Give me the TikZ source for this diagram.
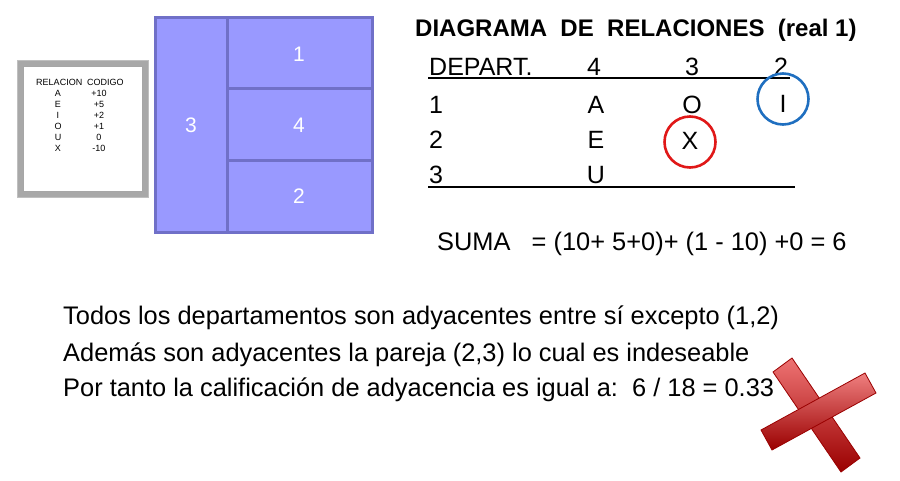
\documentclass[tikz,border=0pt]{standalone}
\usepackage{fontspec}
\setmainfont{Liberation Sans}
\usetikzlibrary{positioning}
\definecolor{dept}{HTML}{9999FF}
\definecolor{deptline}{HTML}{7070C8}
\definecolor{frameg}{HTML}{A8A8A8}
\definecolor{circb}{HTML}{1F6FC0}
\definecolor{circr}{HTML}{E01818}
\definecolor{crossr}{HTML}{E00000}
\definecolor{crossd}{HTML}{9A0000}
\tikzset{
  cell/.style={font=\fontsize{25}{29}\selectfont,inner sep=0pt},
  blockno/.style={font=\fontsize{21}{25}\selectfont,inner sep=0pt,text=white},
  legend/.style={font=\fontsize{9}{10}\selectfont,inner sep=0pt},
  mark circle/.style={circle,line width=2.6pt,minimum size=51pt,inner sep=0pt},
  body/.style={font=\fontsize{25.4}{29}\selectfont,anchor=west,inner sep=0pt}
}
\begin{document}
\begin{tikzpicture}[x=1pt,y=-1pt]
  \useasboundingbox[fill=white] (0,0) rectangle (900,480);
  % legend of relation codes
  \draw[line width=5pt,draw=frameg] (20,63) rectangle (145,194);
  \draw[line width=0.8pt,draw=black!25] (17,60) rectangle (148,197);
  \draw[line width=0.8pt,draw=black!35] (23,66) rectangle (142,191);
  \node[legend] (lhead) at (80,82) {RELACION\ \ CODIGO};
  \foreach \r/\c [count=\i] in {A/+10,E/+5,I/+2,O/+1,U/0,X/-10} {
    \node[legend] (lr\i) at (58,82+11*\i) {\r};
    \node[legend] (lc\i) at (99,82+11*\i) {\c};
  }
  % block layout
  \draw[fill=dept,draw=deptline,line width=3pt] (155,17) rectangle (372,232);
  \draw[draw=deptline,line width=3pt] (227,17) -- (227,232);
  \draw[draw=deptline,line width=3pt] (227,88) -- (372,88);
  \draw[draw=deptline,line width=3pt] (227,160) -- (372,160);
  \node[blockno] (d3) at (191,125) {3};
  \node[blockno] (d1) at (299,54) {1};
  \node[blockno] (d4) at (299,125) {4};
  \node[blockno] (d2) at (299,196) {2};
  % relation chart
  \node[anchor=west,inner sep=0pt,font=\bfseries\fontsize{24}{28}\selectfont] (title) at (415,30)
    {DIAGRAMA\ \ DE\ \ RELACIONES\ \ (real 1)};
  \node[cell,anchor=west] (hdep) at (429,67) {DEPART.};
  \node[cell] (h4) at (594,67) {4};
  \node[cell] (h3) at (692,67) {3};
  \node[cell] (h2) at (781,67) {2};
  \node[cell,anchor=west] (r1) at (429,105) {1};
  \node[cell,anchor=west] (r2) at (429,140) {2};
  \node[cell,anchor=west] (r3) at (429,175) {3};
  \node[cell] (a14) at (596,105) {A};
  \node[cell] (a13) at (692,105) {O};
  \node[cell] (a12) at (783,104) {I};
  \node[cell] (a24) at (596,140) {E};
  \node[cell] (a23) at (690,141) {X};
  \node[cell] (a34) at (596,175) {U};
  \draw[line width=1.2pt] (428,78) -- (790,78);
  \draw[line width=1.2pt] (428,187) -- (795,187);
  \node[mark circle,draw=circb] (ci) at (783,99) {};
  \node[mark circle,draw=circr] (cx) at (690,142) {};
  \node[body] (suma) at (437,244) {SUMA\ \ \ = (10+ 5+0)+ (1 - 10) +0 = 6};
  % conclusions
  \node[body] (t1) at (63,318) {Todos los departamentos son adyacentes entre sí excepto (1,2)};
  \node[body] (t2) at (63,355) {Además son adyacentes la pareja (2,3) lo cual es indeseable};
  \node[body] (t3) at (63,390) {Por tanto la calificación de adyacencia es igual a:\ \ 6 / 18 = 0.33};
  % red cross
  \shade[top color=crossr!55!white,middle color=crossr,bottom color=crossd,draw=crossd,line width=0.8pt]
    (773,372) -- (792,358) -- (860,458) -- (841,472) -- cycle;
  \shade[top color=crossr!50!white,middle color=crossr,bottom color=crossd,draw=crossd,line width=0.8pt]
    (761,430) -- (865,373) -- (876,393) -- (772,450) -- cycle;
\end{tikzpicture}
\end{document}
